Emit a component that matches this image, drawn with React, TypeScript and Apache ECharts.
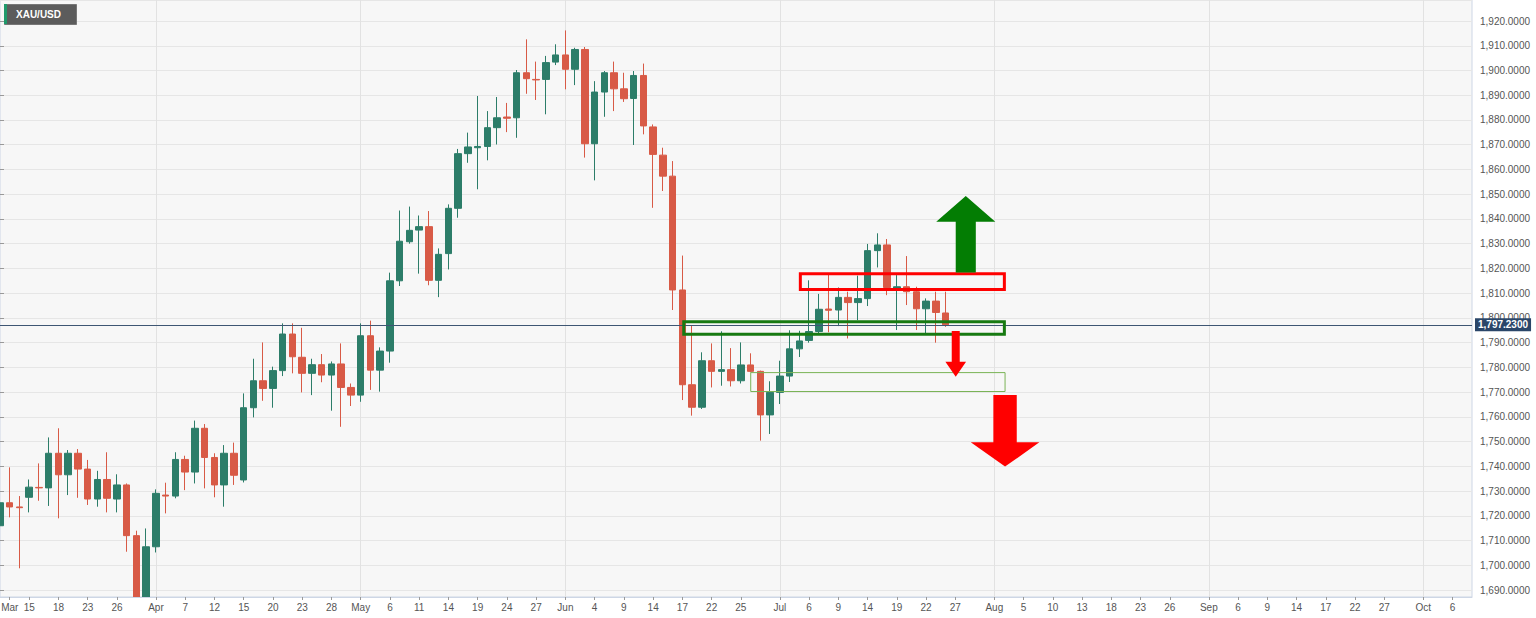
import React, { useEffect, useRef } from "react";
import * as echarts from "echarts";

// ---------- axis / calendar ----------
const FIRST_DAY = "2021-03-10";
const LAST_DAY = "2021-10-08";
const HOLIDAYS = ["2021-04-02"];

const tickLabels: [string, string][] = [
  ["2021-03-11", "Mar"], ["2021-03-15", "15"], ["2021-03-18", "18"], ["2021-03-23", "23"], ["2021-03-26", "26"],
  ["2021-04-01", "Apr"], ["2021-04-07", "7"], ["2021-04-12", "12"], ["2021-04-15", "15"], ["2021-04-20", "20"],
  ["2021-04-23", "23"], ["2021-04-28", "28"], ["2021-05-03", "May"], ["2021-05-06", "6"], ["2021-05-11", "11"],
  ["2021-05-14", "14"], ["2021-05-19", "19"], ["2021-05-24", "24"], ["2021-05-27", "27"], ["2021-06-01", "Jun"],
  ["2021-06-04", "4"], ["2021-06-09", "9"], ["2021-06-14", "14"], ["2021-06-17", "17"], ["2021-06-22", "22"],
  ["2021-06-25", "25"], ["2021-07-01", "Jul"], ["2021-07-06", "6"], ["2021-07-09", "9"], ["2021-07-14", "14"],
  ["2021-07-19", "19"], ["2021-07-22", "22"], ["2021-07-27", "27"], ["2021-08-02", "Aug"], ["2021-08-05", "5"],
  ["2021-08-10", "10"], ["2021-08-13", "13"], ["2021-08-18", "18"], ["2021-08-23", "23"], ["2021-08-26", "26"],
  ["2021-09-01", "Sep"], ["2021-09-06", "6"], ["2021-09-09", "9"], ["2021-09-14", "14"], ["2021-09-17", "17"],
  ["2021-09-22", "22"], ["2021-09-27", "27"], ["2021-10-01", "Oct"], ["2021-10-06", "6"],
];
const monthLines = ["2021-04-01", "2021-05-03", "2021-06-01", "2021-07-01", "2021-08-02", "2021-09-01", "2021-10-01"];

// ---------- XAU/USD daily candles (Mar 10 .. Jul 26, 2021) ----------
const open = [
  1716.0, 1725.3, 1723.6, 1727.5, 1731.5, 1731.3, 1745.3, 1736.6, 1745.3, 1738.9,
  1726.8, 1734.7, 1726.8, 1732.5, 1712.0, 1684.9, 1707.5, 1728.4, 1728.0, 1742.8,
  1737.7, 1755.4, 1743.6, 1732.5, 1745.3, 1734.5, 1763.7, 1774.6, 1771.5, 1778.7,
  1793.5, 1784.1, 1777.6, 1781.1, 1776.9, 1781.4, 1771.9, 1768.8, 1792.8, 1778.9,
  1786.6, 1815.0, 1830.8, 1835.5, 1836.9, 1815.2, 1826.0, 1844.3, 1866.4, 1868.8,
  1869.3, 1876.9, 1881.2, 1880.9, 1899.1, 1896.4, 1896.4, 1903.4, 1906.3, 1900.5,
  1908.5, 1870.4, 1891.3, 1899.1, 1892.6, 1888.7, 1898.0, 1877.2, 1865.8, 1857.3,
  1811.3, 1773.0, 1763.9, 1782.7, 1778.4, 1779.1, 1774.6, 1781.0, 1778.4, 1760.8,
  1769.9, 1776.5, 1787.5, 1790.9, 1794.5, 1803.6, 1803.2, 1808.3, 1806.2, 1807.8,
  1827.2, 1829.5, 1812.1, 1812.6, 1810.6, 1803.7, 1806.8, 1802.0,
];
const close = [
  1725.3, 1723.6, 1723.3, 1731.6, 1731.3, 1745.3, 1736.6, 1745.3, 1738.9, 1726.8,
  1734.7, 1727.1, 1732.5, 1712.0, 1684.9, 1707.5, 1729.1, 1728.0, 1742.8, 1737.7,
  1755.4, 1743.6, 1732.5, 1745.3, 1736.4, 1763.7, 1774.6, 1771.5, 1778.7, 1793.5,
  1784.3, 1777.6, 1781.1, 1776.9, 1781.4, 1771.9, 1768.8, 1792.8, 1778.9, 1786.6,
  1815.0, 1831.0, 1835.4, 1836.9, 1815.2, 1825.7, 1844.3, 1866.4, 1869.1, 1869.3,
  1876.9, 1880.9, 1880.7, 1899.1, 1896.7, 1896.2, 1903.2, 1906.3, 1900.5, 1908.5,
  1870.4, 1891.3, 1899.1, 1892.6, 1888.6, 1898.0, 1877.6, 1866.1, 1857.3, 1811.3,
  1773.0, 1763.9, 1782.7, 1778.4, 1779.1, 1774.6, 1781.0, 1778.4, 1760.8, 1769.9,
  1776.5, 1787.5, 1790.7, 1794.5, 1803.5, 1803.1, 1808.3, 1806.2, 1807.8, 1827.2,
  1829.5, 1812.3, 1812.6, 1810.6, 1803.7, 1806.8, 1802.2, 1797.23,
];
const low = [
  1708.2, 1719.4, 1698.8, 1721.4, 1726.1, 1724.0, 1719.0, 1728.4, 1727.3, 1724.4,
  1723.7, 1721.4, 1721.4, 1705.5, 1676.5, 1677.2, 1705.2, 1721.0, 1727.1, 1730.4,
  1733.1, 1731.1, 1727.5, 1723.7, 1732.5, 1733.5, 1759.8, 1766.5, 1763.7, 1776.5,
  1777.6, 1769.9, 1768.8, 1774.0, 1762.5, 1756.0, 1764.4, 1766.1, 1770.9, 1770.2,
  1781.9, 1812.9, 1830.0, 1817.9, 1813.2, 1808.4, 1819.6, 1840.5, 1862.7, 1852.0,
  1863.7, 1870.1, 1875.1, 1872.8, 1890.6, 1888.1, 1882.3, 1902.2, 1892.4, 1894.1,
  1864.8, 1855.6, 1881.3, 1883.6, 1887.3, 1869.9, 1874.2, 1844.5, 1851.3, 1803.2,
  1766.8, 1760.5, 1763.2, 1771.9, 1772.6, 1772.3, 1773.5, 1778.0, 1750.4, 1753.1,
  1765.2, 1774.1, 1784.2, 1790.0, 1793.6, 1794.2, 1796.7, 1791.7, 1799.1, 1804.8,
  1820.4, 1809.2, 1795.1, 1805.2, 1795.1, 1793.3, 1790.0, 1796.4,
];
const high = [
  1726.0, 1739.6, 1728.0, 1734.7, 1741.2, 1751.7, 1755.4, 1746.6, 1747.0, 1742.6,
  1738.2, 1745.7, 1736.8, 1733.1, 1714.0, 1714.9, 1730.7, 1733.4, 1745.7, 1744.3,
  1758.5, 1757.1, 1745.3, 1748.6, 1749.6, 1769.5, 1783.5, 1790.1, 1780.3, 1797.8,
  1797.8, 1796.0, 1783.5, 1785.4, 1782.4, 1789.7, 1773.5, 1797.8, 1798.9, 1788.1,
  1818.3, 1843.4, 1845.0, 1841.4, 1843.2, 1828.1, 1845.9, 1868.3, 1874.9, 1889.7,
  1883.6, 1889.3, 1886.9, 1900.2, 1912.6, 1903.6, 1905.9, 1910.6, 1916.2, 1909.2,
  1909.5, 1895.7, 1899.8, 1903.6, 1899.1, 1899.8, 1902.8, 1878.2, 1868.8, 1863.4,
  1825.2, 1796.9, 1786.1, 1789.7, 1794.6, 1787.8, 1790.1, 1785.7, 1778.7, 1774.4,
  1782.7, 1795.0, 1794.8, 1815.2, 1809.7, 1818.0, 1812.3, 1810.6, 1817.1, 1829.9,
  1834.2, 1831.9, 1817.3, 1825.0, 1812.6, 1807.9, 1810.6, 1810.6,
];

const lastPrice = 1797.23;
const yMin = 1687.2;
const yMax = 1928.5;

// ---------- drawn annotations (in trading-day index, price) ----------
const boxes = [
  { x0: 82.1, x1: 103.03, y0: 1811.44, y1: 1817.86, color: "#ff0000", width: 3 },
  { x0: 70.14, x1: 103.03, y0: 1793.38, y1: 1798.47, color: "#177a12", width: 3 },
  { x0: 77.01, x1: 103.1, y0: 1770.26, y1: 1777.9, color: "#7ab356", width: 1 },
];
const arrows = [
  { cx: 99.07, headHalf: 3.03, shaftHalf: 1.03, tip: 1849.3, base: 1838.9, tail: 1818.4, color: "#037d03" },
  { cx: 98.04, headHalf: 1.06, shaftHalf: 0.41, tip: 1776.2, base: 1782.3, tail: 1794.7, color: "#ff0000" },
  { cx: 103.1, headHalf: 3.52, shaftHalf: 1.2, tip: 1739.9, base: 1749.7, tail: 1768.8, color: "#ff0000" },
];

const FONT = 'Arial, "Liberation Sans", sans-serif';

function buildTradingDays(first: string, last: string, holidays: string[]) {
  const out: string[] = [];
  const d = new Date(first + "T00:00:00Z");
  const end = new Date(last + "T00:00:00Z");
  while (d <= end) {
    const wd = d.getUTCDay();
    const s = d.toISOString().slice(0, 10);
    if (wd !== 0 && wd !== 6 && !holidays.includes(s)) out.push(s);
    d.setUTCDate(d.getUTCDate() + 1);
  }
  return out;
}

const fmtPrice = (v: number) =>
  v.toLocaleString("en-US", { minimumFractionDigits: 4, maximumFractionDigits: 4 });

const GRID_LEFT = 0;
const GRID_RIGHT = 64;
const GRID_TOP = 0;
const GRID_BOTTOM = 21;
const W = 1536;
const H = 618;

export default function App() {
  const ref = useRef<HTMLDivElement>(null);

  useEffect(() => {
    if (!ref.current) return;
    const chart = echarts.init(ref.current, undefined, { renderer: "svg" });
    const categories = buildTradingDays(FIRST_DAY, LAST_DAY, HOLIDAYS);
    const labelMap: Record<string, string> = {};
    tickLabels.forEach(([d, t]) => (labelMap[d] = t));
    const candles = open.map((o, i) => [o, close[i], low[i], high[i]]);

    chart.setOption({
      animation: false,
      backgroundColor: "#ffffff",
      textStyle: { fontFamily: FONT },
      grid: {
        show: true,
        left: GRID_LEFT,
        right: GRID_RIGHT,
        top: GRID_TOP,
        bottom: GRID_BOTTOM,
        backgroundColor: "#f7f7f7",
        borderColor: "#cdd6e5",
        borderWidth: 1,
        containLabel: false,
        outerBoundsMode: "none",
      },
      xAxis: [
        {
          // month separators only (drawn beneath the candles)
          type: "category",
          data: categories,
          position: "top",
          boundaryGap: false,
          z: 0,
          axisLine: { show: false },
          axisTick: { show: false },
          axisLabel: { show: false },
          splitLine: {
            show: true,
            interval: (_i: number, v: string) => monthLines.includes(v),
            lineStyle: { color: "#e2e2e2", width: 1 },
          },
        },
        {
          // date labels (drawn above the strip that trims the candles)
          type: "category",
          data: categories,
          position: "bottom",
          boundaryGap: false,
          z: 10,
          axisLine: { show: true, lineStyle: { color: "#cdd6e5", width: 1 } },
          axisTick: {
            show: true,
            length: 3,
            interval: (_i: number, v: string) => v in labelMap,
            lineStyle: { color: "#999999" },
          },
          axisLabel: {
            interval: (_i: number, v: string) => v in labelMap,
            formatter: (v: string) => labelMap[v] || "",
            color: "#555555",
            fontSize: 10,
            margin: 5,
            fontFamily: FONT,
          },
          splitLine: { show: false },
        },
        {
          type: "value",
          show: false,
          min: 0,
          max: categories.length - 1,
        },
      ],
      yAxis: {
        type: "value",
        position: "right",
        min: yMin,
        max: yMax,
        splitNumber: 24,
        scale: true,
        axisLine: { show: false },
        axisTick: { show: true, length: 4, lineStyle: { color: "#999999" } },
        axisLabel: {
          showMinLabel: false,
          showMaxLabel: false,
          formatter: (v: number) => fmtPrice(v),
          color: "#555555",
          fontSize: 10,
          margin: 8,
          fontFamily: FONT,
        },
        splitLine: { show: true, lineStyle: { color: "#e6e6e6", width: 1 } },
      },
      graphic: [
        {
          type: "rect",
          left: GRID_LEFT,
          top: H - GRID_BOTTOM + 0.5,
          shape: { width: W - GRID_RIGHT - GRID_LEFT, height: GRID_BOTTOM },
          style: { fill: "#ffffff" },
          silent: true,
          z: 5,
        },
        { type: "rect", left: 4, top: 4, shape: { width: 72, height: 20 }, style: { fill: "#5c5c5c", stroke: "#777777", lineWidth: 1 }, z: 100 },
        { type: "rect", left: 4, top: 4, shape: { width: 3, height: 20 }, style: { fill: "#1f9a6b" }, z: 101 },
        { type: "text", left: 16, top: 9, style: { text: "XAU/USD", fill: "#ffffff", font: `bold 10px ${FONT}` }, z: 101 },
      ],
      series: [
        {
          type: "candlestick",
          xAxisIndex: 1,
          data: candles,
          barWidth: 7,
          clip: true,
          itemStyle: {
            color: "#2c7d69",
            color0: "#d85a46",
            borderColor: "#2c7d69",
            borderColor0: "#d85a46",
            borderWidth: 1,
          },
          markLine: {
            silent: true,
            symbol: ["none", "none"],
            data: [{ yAxis: lastPrice }],
            lineStyle: { color: "#3e5673", width: 1, type: "solid" },
            label: {
              show: true,
              position: "end",
              distance: 3,
              formatter: () => fmtPrice(lastPrice),
              backgroundColor: "#2a4669",
              color: "#ffffff",
              fontWeight: "bold",
              fontSize: 10,
              fontFamily: FONT,
              padding: [2, 3, 1, 3],
            },
            emphasis: { disabled: true },
          },
        },
        {
          type: "custom",
          xAxisIndex: 2,
          yAxisIndex: 0,
          z: 5,
          silent: true,
          data: boxes.map((b) => [b.x0, b.y0]),
          renderItem: (params: any, api: any) => {
            const b = boxes[params.dataIndex];
            const p0 = api.coord([b.x0, b.y1]);
            const p1 = api.coord([b.x1, b.y0]);
            return {
              type: "rect",
              shape: { x: p0[0], y: p0[1], width: p1[0] - p0[0], height: p1[1] - p0[1] },
              style: { fill: "none", stroke: b.color, lineWidth: b.width },
            };
          },
        },
        {
          type: "custom",
          xAxisIndex: 2,
          yAxisIndex: 0,
          z: 6,
          silent: true,
          data: arrows.map((a) => [a.cx, a.tip]),
          renderItem: (params: any, api: any) => {
            const a = arrows[params.dataIndex];
            const pts = [
              [a.cx - a.shaftHalf, a.tail],
              [a.cx + a.shaftHalf, a.tail],
              [a.cx + a.shaftHalf, a.base],
              [a.cx + a.headHalf, a.base],
              [a.cx, a.tip],
              [a.cx - a.headHalf, a.base],
              [a.cx - a.shaftHalf, a.base],
            ].map((p) => api.coord(p));
            return { type: "polygon", shape: { points: pts }, style: { fill: a.color } };
          },
        },
      ],
    });

    return () => chart.dispose();
  }, []);

  return (
    <div
      ref={ref}
      style={{ position: "fixed", left: 0, top: 0, width: W, height: H, background: "#ffffff" }}
    />
  );
}
